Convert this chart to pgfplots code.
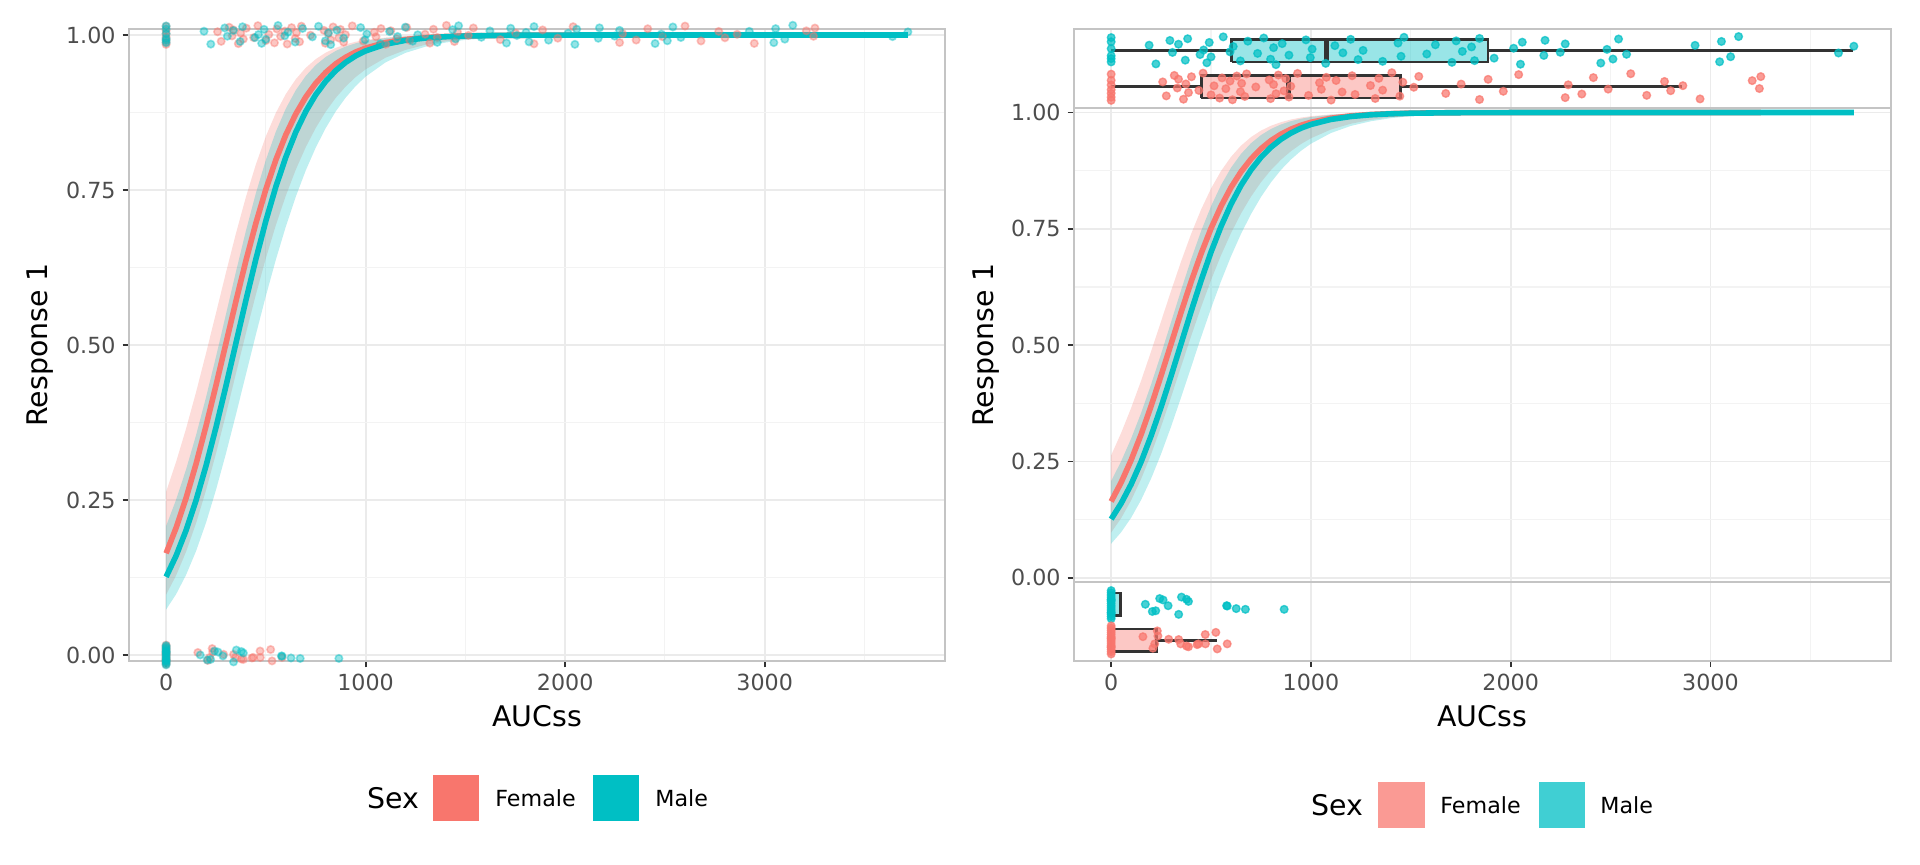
\documentclass[border=0pt]{standalone}
\usepackage{pgfplots}
\pgfplotsset{compat=1.18}
\usepackage{pgfplotstable}
\usepgfplotslibrary{fillbetween}
\usepackage{fontspec}
\setmainfont{DejaVu Sans}

\definecolor{fem}{HTML}{F8766D}
\definecolor{mal}{HTML}{00BFC4}
\definecolor{femL}{HTML}{FA9A94}
\definecolor{malL}{HTML}{40CFD3}
\definecolor{gridmaj}{HTML}{EBEBEB}
\definecolor{gridmin}{HTML}{F3F3F3}
\definecolor{framec}{HTML}{C4C4C4}
\definecolor{tickc}{HTML}{333333}
\definecolor{tlab}{HTML}{4D4D4D}
\definecolor{boxc}{HTML}{333333}

% fitted curves (x, fit, upper, lower)
\pgfplotstableread{
x f u l
0 0.1640 0.2633 0.0972
50 0.2050 0.3114 0.1281
100 0.2530 0.3651 0.1664
150 0.3081 0.4238 0.2123
200 0.3692 0.4866 0.2655
250 0.4348 0.5514 0.3249
300 0.5027 0.6168 0.3883
350 0.5706 0.6799 0.4539
400 0.6359 0.7387 0.5188
450 0.6965 0.7913 0.5814
500 0.7510 0.8366 0.6399
550 0.7985 0.8743 0.6932
600 0.8390 0.9047 0.7409
650 0.8726 0.9287 0.7828
700 0.9000 0.9471 0.8191
750 0.9221 0.9611 0.8501
800 0.9396 0.9715 0.8764
850 0.9534 0.9792 0.8985
900 0.9641 0.9849 0.9168
950 0.9725 0.9891 0.9321
1000 0.9789 0.9921 0.9446
1100 0.9877 0.9959 0.9634
1200 0.9928 0.9979 0.9759
1300 0.9958 0.9989 0.9842
1400 0.9976 0.9994 0.9896
1500 0.9986 0.9997 0.9932
1700 0.9995 0.9999 0.9971
2000 0.9999 1.0000 0.9992
2500 1.0000 1.0000 0.9999
3000 1.0000 1.0000 1.0000
3252 1.0000 1.0000 1.0000
}\ftab

\pgfplotstableread{
x f u l
0 0.1260 0.2080 0.0733
50 0.1600 0.2504 0.0979
100 0.2010 0.2992 0.1291
150 0.2494 0.3544 0.1675
200 0.3051 0.4156 0.2133
250 0.3671 0.4811 0.2663
300 0.4339 0.5496 0.3250
350 0.5031 0.6181 0.3878
400 0.5722 0.6842 0.4524
450 0.6386 0.7449 0.5169
500 0.7002 0.7985 0.5791
550 0.7552 0.8440 0.6375
600 0.8030 0.8813 0.6910
650 0.8434 0.9110 0.7392
700 0.8767 0.9340 0.7816
750 0.9038 0.9515 0.8184
800 0.9254 0.9646 0.8499
850 0.9425 0.9743 0.8767
900 0.9559 0.9814 0.8990
950 0.9663 0.9866 0.9176
1000 0.9743 0.9904 0.9329
1100 0.9851 0.9951 0.9559
1200 0.9914 0.9975 0.9712
1300 0.9951 0.9987 0.9812
1400 0.9972 0.9993 0.9878
1500 0.9984 0.9997 0.9921
1700 0.9995 0.9999 0.9967
2000 0.9999 1.0000 0.9991
2500 1.0000 1.0000 0.9999
3000 1.0000 1.0000 1.0000
3718 1.0000 1.0000 1.0000
}\mtab

% observations (x, jitter)
\pgfplotstableread{
x j
0 0.62
0 -0.35
0 0.91
0 -0.78
0 0.14
0 -0.55
190 0.38
224 -0.92
294 0.71
307 -0.12
337 0.45
371 -0.66
383 0.83
445 -0.27
463 0.05
479 -0.84
491 0.57
500 -0.43
561 0.96
595 -0.08
611 0.29
647 -0.71
684 0.66
733 -0.19
764 0.88
798 -0.59
813 0.21
825 -0.97
856 0.49
890 -0.31
975 0.75
997 -0.48
1006 0.11
1074 -0.88
1120 0.35
1160 -0.15
1199 0.79
1236 -0.62
1261 0.02
1359 -0.74
1436 0.53
1451 -0.39
1466 0.93
1580 -0.23
1623 0.41
1706 -0.81
1727 0.68
1758 -0.05
1804 0.26
1819 -0.69
1844 0.85
1917 -0.52
2015 0.17
2049 -0.94
2058 0.59
2166 -0.33
2172 0.72
2248 -0.11
2273 0.47
2451 -0.86
2482 0.09
2512 -0.58
2540 0.81
2580 -0.25
2923 0.37
3046 -0.77
3055 0.64
3101 -0.42
3141 0.98
3641 -0.16
3718 0.31
}\mresp

\pgfplotstableread{
x j
0 -0.21
0 0.44
0 -0.73
0 0.87
0 -0.46
0 0.12
0 -0.95
258 0.33
276 -0.64
316 0.78
331 -0.09
337 0.52
362 -0.87
374 0.19
387 -0.41
402 0.69
439 -0.26
460 0.94
500 -0.57
515 0.06
543 -0.79
555 0.61
574 -0.14
595 0.39
607 -0.91
629 0.74
647 -0.35
653 0.23
669 -0.68
678 0.89
724 -0.02
791 0.47
798 -0.83
813 0.15
825 -0.49
837 0.81
865 -0.29
874 0.56
890 -0.72
899 0.03
933 0.92
988 -0.61
1043 0.27
1052 -0.18
1077 0.65
1101 -0.93
1126 0.43
1156 -0.37
1206 0.76
1221 -0.54
1298 0.08
1322 -0.82
1340 0.58
1359 -0.24
1405 0.97
1445 -0.66
1460 0.31
1515 -0.04
1540 0.71
1675 -0.47
1752 0.18
1844 -0.89
1887 0.51
1963 -0.32
2040 0.84
2273 -0.76
2288 0.13
2356 -0.51
2414 0.63
2488 -0.17
2601 0.90
2681 -0.60
2770 0.36
2801 -0.28
2862 0.07
2948 -0.85
3209 0.42
3245 -0.13
3252 0.70
}\fresp

\pgfplotstableread{
x j
0 -1.00
0 -0.85
0 -0.70
0 -0.55
0 -0.40
0 -0.25
0 -0.10
0 0.05
0 0.20
0 0.35
0 0.50
0 0.65
0 0.80
0 0.95
0 -0.60
0 0.30
171 0.00
206 -0.50
223 -0.45
243 0.40
260 0.30
285 -0.10
338 -0.70
352 0.50
377 0.35
387 0.20
578 -0.10
581 -0.12
626 -0.30
672 -0.35
866 -0.35
}\mnon

\pgfplotstableread{
x j
0 -0.95
0 -0.80
0 -0.65
0 -0.50
0 -0.35
0 -0.20
0 -0.05
0 0.10
0 0.25
0 0.40
0 0.55
0 0.70
0 0.85
0 1.00
0 -0.45
0 0.15
159 0.25
209 -0.55
218 -0.25
231 0.65
234 0.30
288 0.07
338 0.05
348 -0.25
377 -0.40
387 -0.45
430 -0.30
437 -0.25
471 0.40
472 -0.25
524 0.55
531 -0.60
581 -0.25
}\fnon

\pgfplotsset{
  base/.style={
    scale only axis,
    xmin=-186, xmax=3904,
    axis line style={draw=framec, line width=1.1pt},
    tick style={draw=tickc, line width=0.9pt},
    tick align=outside,
    major tick length=3.2pt,
    minor tick length=0pt,
    major grid style={draw=gridmaj, line width=0.9pt},
    minor grid style={draw=gridmin, line width=0.6pt},
    xtick={0,1000,2000,3000},
    xticklabels={0,1000,2000,3000},
    minor xtick={500,1500,2500,3500},
    ticklabel style={font=\fontsize{11.1}{13}\selectfont, text=tlab},
    /pgf/number format/assume math mode=true,
    clip=false,
  },
  ptsL/.style={only marks, mark=*, mark size=1.85pt,
    mark options={line width=0.8pt, draw=#1, fill=#1, opacity=0.42}},
  ptsR/.style={only marks, mark=*, mark size=1.9pt,
    mark options={line width=0.7pt, draw=#1, fill=#1, opacity=0.72}},
  fitline/.style={#1, line width=2.8pt},
  band/.style={fill=#1, fill opacity=0.25, draw=none},
  boxline/.style={draw=boxc, line width=1.25pt},
}

\begin{document}
\begin{tikzpicture}
\path (0,0) rectangle (960pt,432.5pt);

% ---------------- left panel ----------------
\begin{axis}[base, at={(64.5pt,102pt)}, anchor=south west,
  width=408pt, height=316pt,
  ymin=-0.0097, ymax=1.0097, grid=both,
  ytick={0,0.25,0.5,0.75,1}, yticklabels={0.00,0.25,0.50,0.75,1.00},
  minor ytick={0.125,0.375,0.625,0.875},
  xtick pos=left, ytick pos=left]
\addplot[ptsL=fem] table[x=x, y expr=1+0.016*\thisrow{j}] {\fresp};
\addplot[ptsL=mal] table[x=x, y expr=1+0.016*\thisrow{j}] {\mresp};
\addplot[ptsL=fem] table[x=x, y expr=0.016*\thisrow{j}] {\fnon};
\addplot[ptsL=mal] table[x=x, y expr=0.016*\thisrow{j}] {\mnon};
\addplot[name path=fuL, draw=none] table[x=x, y=u] {\ftab};
\addplot[name path=flL, draw=none] table[x=x, y=l] {\ftab};
\addplot[band=fem] fill between[of=fuL and flL];
\addplot[name path=muL, draw=none] table[x=x, y=u] {\mtab};
\addplot[name path=mlL, draw=none] table[x=x, y=l] {\mtab};
\addplot[band=mal] fill between[of=muL and mlL];
\addplot[fitline=fem] table[x=x, y=f] {\ftab};
\addplot[fitline=mal] table[x=x, y=f] {\mtab};
\end{axis}

% ---------------- right panel: top strip ----------------
\begin{axis}[base, at={(537pt,378.5pt)}, anchor=south west,
  width=408.5pt, height=39.5pt,
  ymin=0.408, ymax=2.603, ytick=\empty, xticklabels={},
  xmajorgrids, xminorgrids, major tick length=0pt]
% Male box
\addplot[boxline, fill=mal, fill opacity=0.4]
  coordinates {(603,1.685) (1887,1.685) (1887,2.315) (603,2.315) (603,1.685)};
\addplot[boxline] coordinates {(0,2) (603,2)};
\addplot[boxline] coordinates {(1887,2) (3715,2)};
\addplot[boxline, line width=2.4pt] coordinates {(1077,1.685) (1077,2.315)};
% Female box
\addplot[boxline, fill=fem, fill opacity=0.4]
  coordinates {(452,0.685) (1448,0.685) (1448,1.315) (452,1.315) (452,0.685)};
\addplot[boxline] coordinates {(0,1) (452,1)};
\addplot[boxline] coordinates {(1448,1) (2856,1)};
\addplot[boxline, line width=2.4pt] coordinates {(888,0.685) (888,1.315)};
\addplot[ptsR=mal] table[x=x, y expr=2+0.4*\thisrow{j}] {\mresp};
\addplot[ptsR=fem] table[x=x, y expr=1+0.4*\thisrow{j}] {\fresp};
\end{axis}

% ---------------- right panel: main ----------------
\begin{axis}[base, at={(537pt,141.35pt)}, anchor=south west,
  width=408.5pt, height=237.15pt,
  ymin=-0.0097, ymax=1.0097, grid=both,
  ytick={0,0.25,0.5,0.75,1}, yticklabels={0.00,0.25,0.50,0.75,1.00},
  minor ytick={0.125,0.375,0.625,0.875},
  xticklabels={}, xtick style={draw=none}, ytick pos=left]
\addplot[name path=fuR, draw=none] table[x=x, y=u] {\ftab};
\addplot[name path=flR, draw=none] table[x=x, y=l] {\ftab};
\addplot[band=fem] fill between[of=fuR and flR];
\addplot[name path=muR, draw=none] table[x=x, y=u] {\mtab};
\addplot[name path=mlR, draw=none] table[x=x, y=l] {\mtab};
\addplot[band=mal] fill between[of=muR and mlR];
\addplot[fitline=fem] table[x=x, y=f] {\ftab};
\addplot[fitline=mal] table[x=x, y=f] {\mtab};
\end{axis}

% ---------------- right panel: bottom strip ----------------
\begin{axis}[base, at={(537pt,102.15pt)}, anchor=south west,
  width=408.5pt, height=39.2pt,
  ymin=0.433, ymax=2.611, ytick=\empty,
  xmajorgrids, xminorgrids, xtick pos=left]
% Male box
\addplot[boxline, fill=mal, fill opacity=0.4]
  coordinates {(0,1.685) (47,1.685) (47,2.315) (0,2.315) (0,1.685)};
% Female box
\addplot[boxline, fill=fem, fill opacity=0.4]
  coordinates {(0,0.685) (226,0.685) (226,1.315) (0,1.315) (0,0.685)};
\addplot[boxline] coordinates {(226,1) (528,1)};
\addplot[ptsR=mal] table[x=x, y expr=2+0.4*\thisrow{j}] {\mnon};
\addplot[ptsR=fem] table[x=x, y expr=1+0.4*\thisrow{j}] {\fnon};
\end{axis}

% ---------------- titles ----------------
\node[rotate=90, font=\fontsize{14.2}{17}\selectfont] at (20pt,260pt) {Response 1};
\node[rotate=90, font=\fontsize{14.2}{17}\selectfont] at (493pt,260pt) {Response 1};
\node[font=\fontsize{14.2}{17}\selectfont] at (268.5pt,74.5pt) {AUCss};
\node[font=\fontsize{14.2}{17}\selectfont] at (741pt,74.5pt) {AUCss};

% ---------------- legends ----------------
\node[anchor=west, inner sep=0pt, font=\fontsize{14.2}{17}\selectfont] at (183.5pt,33.3pt) {Sex};
\fill[fem] (216.5pt,22pt) rectangle (239.5pt,45pt);
\node[anchor=west, inner sep=0pt, font=\fontsize{11.1}{13}\selectfont] at (247.5pt,33.3pt) {Female};
\fill[mal] (296.5pt,22pt) rectangle (319.5pt,45pt);
\node[anchor=west, inner sep=0pt, font=\fontsize{11.1}{13}\selectfont] at (327.5pt,33.3pt) {Male};

\node[anchor=west, inner sep=0pt, font=\fontsize{14.2}{17}\selectfont] at (655.5pt,29.8pt) {Sex};
\fill[femL] (689pt,18.5pt) rectangle (712.5pt,41.5pt);
\node[anchor=west, inner sep=0pt, font=\fontsize{11.1}{13}\selectfont] at (720pt,29.8pt) {Female};
\fill[malL] (769.5pt,18.5pt) rectangle (792.5pt,41.5pt);
\node[anchor=west, inner sep=0pt, font=\fontsize{11.1}{13}\selectfont] at (800pt,29.8pt) {Male};
\end{tikzpicture}
\end{document}
